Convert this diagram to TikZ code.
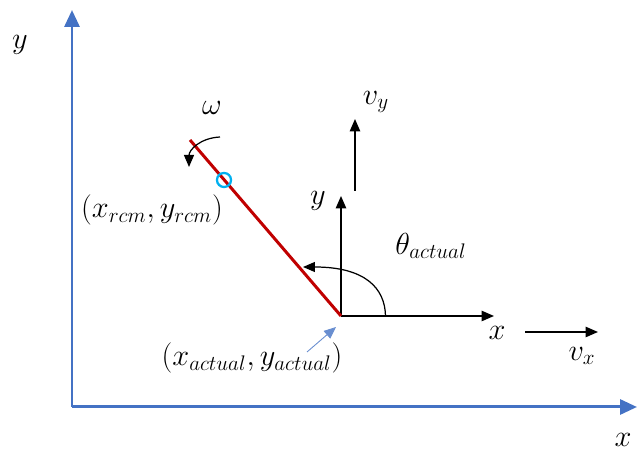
\documentclass[tikz,border=0pt]{standalone}
\usepackage{tikz}
\usetikzlibrary{positioning,arrows.meta,calc}
\definecolor{axisblue}{HTML}{4472C4}
\definecolor{rodred}{HTML}{C00000}
\definecolor{cmcyan}{HTML}{00B0F0}
\tikzset{
  lbl/.style    ={font=\fontsize{18}{22}\selectfont, inner sep=1pt},
  worldax/.style={axisblue, line width=1.7pt, -{Triangle[length=3.4mm, width=3mm]}},
  bodyax/.style ={black, line width=0.8pt, -{Triangle[length=2.5mm, width=2.1mm]}},
  rod/.style    ={rodred, line width=1.7pt},
  cmring/.style ={draw=cmcyan, line width=1.3pt, circle, minimum size=8pt, inner sep=0pt},
  rot/.style    ={black, line width=0.7pt, -{Triangle[length=2.4mm, width=2mm]}},
  pointer/.style={axisblue!80, line width=0.5pt, -{Triangle[length=2.4mm, width=2mm]}},
}

\begin{document}
\begin{tikzpicture}[x=0.02cm, y=-0.02cm]
  \useasboundingbox (0,0) rectangle (637,455);

  % world frame
  \coordinate (wo) at (72,407);
  \coordinate (wy) at (72,10);
  \coordinate (wx) at (637,407);
  \draw[worldax] (wo) -- (wy);
  \draw[worldax] (wo) -- (wx);
  \node[lbl] (wylbl) at (20,45) {$y$};
  \node[lbl] (wxlbl) at (623,440) {$x$};

  % body frame at the pivot
  \coordinate (o) at (341,316);
  \coordinate (by) at (341,196);
  \coordinate (bx) at (494,316);
  \draw[bodyax] (o) -- (by);
  \draw[bodyax] (o) -- (bx);
  \node[lbl] (bylbl) at (318,201) {$y$};
  \node[lbl] (bxlbl) at (497,333) {$x$};

  % velocities
  \coordinate (vys) at (355,191);
  \coordinate (vye) at (355,119);
  \draw[bodyax] (vys) -- (vye);
  \node[lbl] (vylbl) at (376,102) {$v_y$};
  \coordinate (vxs) at (525,332);
  \coordinate (vxe) at (598,332);
  \draw[bodyax] (vxs) -- (vxe);
  \node[lbl] (vxlbl) at (582,356) {$v_x$};

  % rod and centre of mass
  \coordinate (tip) at (190,140);
  \draw[rod] (o) -- (tip);
  \node[cmring] (rcm) at (224,180) {};
  \node[lbl] (rcmlbl) at (152,210) {$(x_{rcm},y_{rcm})$};

  % rotation
  \coordinate (ws) at (220,137);
  \coordinate (we) at (189,167);
  \draw[rot] (ws) .. controls (200,138) and (189,150) .. (we);
  \node[lbl] (wlbl) at (212,108) {$\omega$};

  % angle
  \coordinate (as) at (385.5,316);
  \coordinate (ae) at (303,267);
  \draw[rot] (as) .. controls (385,288) and (365,267) .. (ae);
  \node[lbl] (thlbl) at (431,246) {$\theta_{actual}$};

  % pivot label
  \node[lbl] (actlbl) at (252,358) {$(x_{actual},y_{actual})$};
  \coordinate (ps) at (307,352);
  \coordinate (pe) at (336,327);
  \draw[pointer] (ps) -- (pe);
\end{tikzpicture}
\end{document}
